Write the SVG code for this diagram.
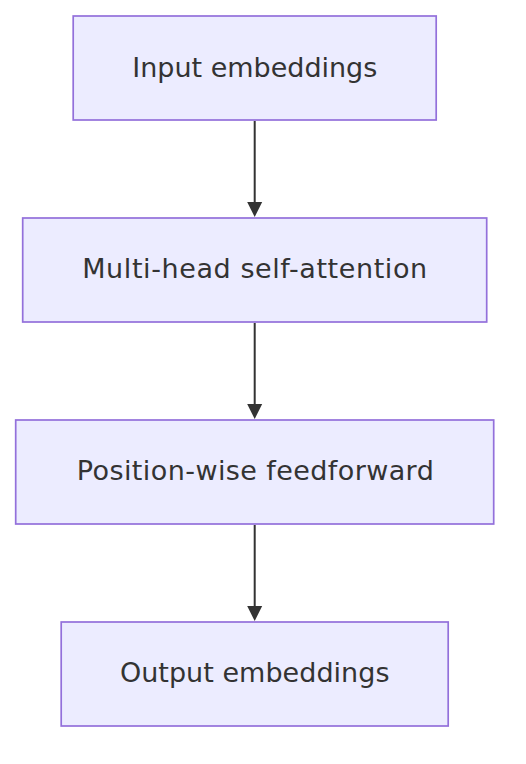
<svg xmlns="http://www.w3.org/2000/svg" width="526" height="764" viewBox="0 0 526 764">
<style>
.node rect{fill:#ECECFF;stroke:#9370DB;stroke-width:1.7}
.node text{font-family:"DejaVu Sans",sans-serif;font-size:27px;fill:#333333;text-anchor:middle}
.edge line{stroke:#333333;stroke-width:2}
.edge polygon{fill:#333333}
</style>
<rect width="526" height="764" fill="#ffffff"/>
<g id="connectors" class="edge">
<line x1="254.7" y1="121" x2="254.7" y2="204"/>
<polygon points="247.2,202 262.2,202 254.7,217"/>
<line x1="254.7" y1="323" x2="254.7" y2="406"/>
<polygon points="247.2,404 262.2,404 254.7,419"/>
<line x1="254.7" y1="525" x2="254.7" y2="608"/>
<polygon points="247.2,606 262.2,606 254.7,621"/>
</g>
<g id="input" class="node">
<rect x="73.2" y="16" width="363" height="104"/>
<text x="254.8" y="76.5" textLength="245" lengthAdjust="spacing">Input embeddings</text>
</g>
<g id="attention" class="node">
<rect x="22.7" y="218" width="464" height="104"/>
<text x="254.7" y="277.5" textLength="345" lengthAdjust="spacing">Multi-head self-attention</text>
</g>
<g id="feedforward" class="node">
<rect x="15.7" y="420" width="478" height="104"/>
<text x="255.3" y="480" textLength="357" lengthAdjust="spacing">Position-wise feedforward</text>
</g>
<g id="output" class="node">
<rect x="61.2" y="622" width="387" height="104"/>
<text x="254.7" y="682" textLength="269.6" lengthAdjust="spacing">Output embeddings</text>
</g>
</svg>
